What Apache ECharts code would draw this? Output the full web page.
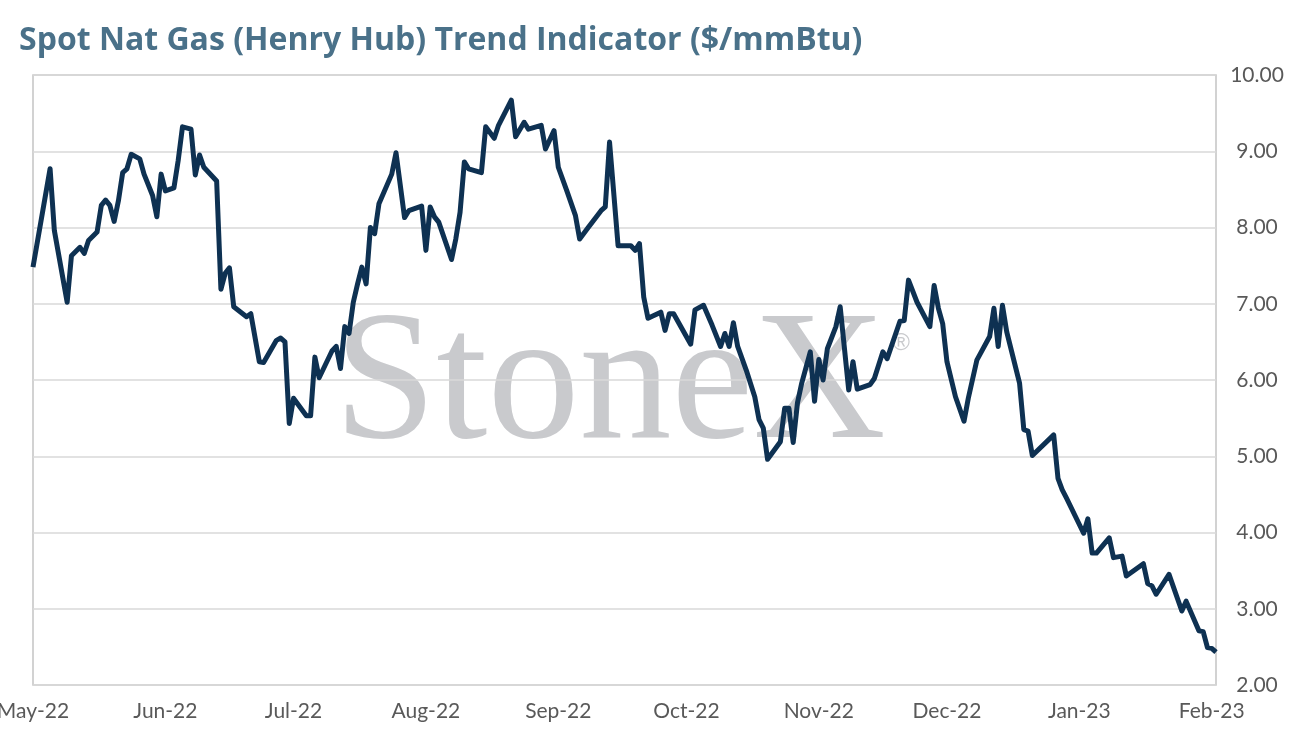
<!DOCTYPE html>
<html>
<head>
<meta charset="utf-8">
<script src="https://cdn.jsdelivr.net/npm/echarts@6/dist/echarts.min.js"></script>
<style>
  html, body { margin: 0; padding: 0; background: #fff; }
  #chart { width: 1294px; height: 744px; }
</style>
</head>
<body>
<div id="chart"></div>
<script>
// spot Henry Hub trend indicator, May-22 .. Feb-23
const dates = [
  "2022-05-01","2022-05-05","2022-05-06","2022-05-09","2022-05-10","2022-05-12","2022-05-13","2022-05-14",
  "2022-05-16","2022-05-17","2022-05-18","2022-05-19","2022-05-20","2022-05-21","2022-05-22","2022-05-23",
  "2022-05-24","2022-05-26","2022-05-27","2022-05-29","2022-05-30","2022-05-31","2022-06-01","2022-06-03",
  "2022-06-04","2022-06-05","2022-06-07","2022-06-08","2022-06-09","2022-06-10","2022-06-13","2022-06-14",
  "2022-06-15","2022-06-16","2022-06-17","2022-06-20","2022-06-21","2022-06-23","2022-06-24","2022-06-27",
  "2022-06-28","2022-06-29","2022-06-30","2022-07-01","2022-07-04","2022-07-05","2022-07-06","2022-07-07",
  "2022-07-10","2022-07-11","2022-07-12","2022-07-13","2022-07-14","2022-07-15","2022-07-16","2022-07-17",
  "2022-07-18","2022-07-19","2022-07-20","2022-07-21","2022-07-24","2022-07-25","2022-07-27","2022-07-28",
  "2022-07-31","2022-08-01","2022-08-02","2022-08-03","2022-08-04","2022-08-07","2022-08-08","2022-08-09",
  "2022-08-10","2022-08-11","2022-08-14","2022-08-15","2022-08-17","2022-08-18","2022-08-21","2022-08-22",
  "2022-08-24","2022-08-25","2022-08-28","2022-08-29","2022-08-31","2022-09-01","2022-09-03","2022-09-05",
  "2022-09-06","2022-09-08","2022-09-11","2022-09-12","2022-09-13","2022-09-15","2022-09-18","2022-09-19",
  "2022-09-20","2022-09-21","2022-09-22","2022-09-25","2022-09-26","2022-09-27","2022-09-28","2022-10-02",
  "2022-10-03","2022-10-05","2022-10-07","2022-10-09","2022-10-10","2022-10-11","2022-10-12","2022-10-13",
  "2022-10-15","2022-10-17","2022-10-18","2022-10-19","2022-10-20","2022-10-23","2022-10-24","2022-10-25",
  "2022-10-26","2022-10-27","2022-10-28","2022-10-30","2022-10-31","2022-11-01","2022-11-02","2022-11-03",
  "2022-11-05","2022-11-06","2022-11-08","2022-11-09","2022-11-10","2022-11-13","2022-11-14","2022-11-16",
  "2022-11-17","2022-11-20","2022-11-21","2022-11-22","2022-11-24","2022-11-27","2022-11-28","2022-11-29",
  "2022-11-30","2022-12-01","2022-12-03","2022-12-05","2022-12-06","2022-12-08","2022-12-11","2022-12-12",
  "2022-12-13","2022-12-14","2022-12-15","2022-12-18","2022-12-19","2022-12-20","2022-12-21","2022-12-26",
  "2022-12-27","2022-12-28","2022-12-29","2023-01-02","2023-01-03","2023-01-04","2023-01-05","2023-01-08",
  "2023-01-09","2023-01-11","2023-01-12","2023-01-16","2023-01-17","2023-01-18","2023-01-19","2023-01-22",
  "2023-01-25","2023-01-26","2023-01-29","2023-01-30","2023-01-31","2023-02-01","2023-02-02"
]

const prices = [
  7.48, 8.77, 7.96, 7.02, 7.63, 7.74, 7.66, 7.83,
  7.94, 8.29, 8.36, 8.29, 8.08, 8.35, 8.72, 8.77,
  8.96, 8.90, 8.70, 8.42, 8.14, 8.70, 8.48, 8.52,
  8.88, 9.32, 9.29, 8.69, 8.95, 8.79, 8.61, 7.19,
  7.40, 7.47, 6.96, 6.83, 6.87, 6.24, 6.23, 6.52,
  6.55, 6.50, 5.43, 5.76, 5.53, 5.53, 6.30, 6.03,
  6.38, 6.44, 6.15, 6.70, 6.61, 7.02, 7.26, 7.48,
  7.26, 8.00, 7.92, 8.31, 8.70, 8.98, 8.13, 8.22,
  8.28, 7.70, 8.27, 8.14, 8.07, 7.58, 7.85, 8.20,
  8.86, 8.77, 8.72, 9.32, 9.17, 9.34, 9.67, 9.19,
  9.38, 9.29, 9.34, 9.03, 9.27, 8.79, 8.48, 8.16,
  7.85, 8.00, 8.22, 8.27, 9.12, 7.76, 7.76, 7.70,
  7.79, 7.09, 6.81, 6.89, 6.65, 6.87, 6.87, 6.47,
  6.92, 6.98, 6.72, 6.44, 6.61, 6.44, 6.75, 6.44,
  6.13, 5.78, 5.48, 5.37, 4.96, 5.19, 5.63, 5.63,
  5.18, 5.70, 5.96, 6.37, 5.72, 6.27, 6.00, 6.41,
  6.70, 6.96, 5.87, 6.24, 5.88, 5.94, 6.02, 6.37,
  6.28, 6.77, 6.78, 7.31, 7.02, 6.70, 7.24, 6.94,
  6.74, 6.24, 5.78, 5.46, 5.76, 6.26, 6.57, 6.94,
  6.44, 6.98, 6.63, 5.96, 5.35, 5.33, 5.01, 5.28,
  4.71, 4.56, 4.45, 3.99, 4.18, 3.73, 3.73, 3.93,
  3.67, 3.69, 3.43, 3.59, 3.33, 3.30, 3.19, 3.45,
  2.97, 3.10, 2.71, 2.70, 2.49, 2.48, 2.43
]

const monthTicks = [
  "2022-05-01", "2022-06-01", "2022-07-01", "2022-08-01", "2022-09-01",
  "2022-10-01", "2022-11-01", "2022-12-01", "2023-01-01", "2023-02-01"
]
const monthNames = ["Jan","Feb","Mar","Apr","May","Jun","Jul","Aug","Sep","Oct","Nov","Dec"]

const toTime = (s) => {
  const p = s.split("-").map(Number)
  return new Date(p[0], p[1] - 1, p[2]).getTime()
}

const chart = echarts.init(document.getElementById("chart"))

chart.setOption({
  animation: false,
  title: {
    text: "Spot Nat Gas (Henry Hub) Trend Indicator ($/mmBtu)",
    left: 14,
    top: 20,
    textStyle: { fontFamily: "Open Sans", fontWeight: "bold", fontSize: 32, color: "#4a7189" }
  },
  grid: {
    left: 33, right: 78, top: 75, bottom: 59,
    outerBoundsMode: "none",
    containLabel: false,
    show: true, borderColor: "#c4c4c4", borderWidth: 1.5
  },
  xAxis: {
    type: "value",
    min: toTime("2022-05-01"),
    max: toTime("2023-02-02"),
    axisLine: { show: false },
    axisTick: { show: false },
    splitLine: { show: false },
    axisLabel: {
      customValues: monthTicks.map(toTime),
      margin: 16,
      fontFamily: "Lato",
      fontSize: 21,
      color: "#595959",
      formatter: (v) => {
        const d = new Date(v)
        return monthNames[d.getMonth()] + "-" + String(d.getFullYear()).slice(2)
      }
    }
  },
  yAxis: {
    type: "value",
    position: "right",
    min: 2,
    max: 10,
    interval: 1,
    axisLine: { show: false },
    axisTick: { show: false },
    splitLine: { lineStyle: { color: "#d9d9d9", width: 1.5 } },
    axisLabel: {
      align: "center",
      margin: 41,
      fontFamily: "Lato",
      fontSize: 21,
      color: "#595959",
      formatter: (v) => v.toFixed(2)
    }
  },
  graphic: [
    {
      type: "text",
      z: -10,
      x: 334,
      y: 389,
      style: {
        text: "StoneX",
        font: '184px "Liberation Serif"',
        fill: "#c9cacd",
        textVerticalAlign: "middle"
      }
    },
    {
      type: "text",
      z: -10,
      x: 901,
      y: 343,
      style: {
        text: "\u00ae",
        font: '24px "Liberation Sans"',
        fill: "#c9cacd",
        textAlign: "center",
        textVerticalAlign: "middle"
      }
    }
  ],
  series: [
    {
      type: "line",
      data: dates.map((d, i) => [toTime(d), prices[i]]),
      showSymbol: false,
      symbol: "none",
      lineStyle: { color: "#0e3152", width: 5, join: "round" },
      z: 5
    }
  ]
})
</script>
</body>
</html>
